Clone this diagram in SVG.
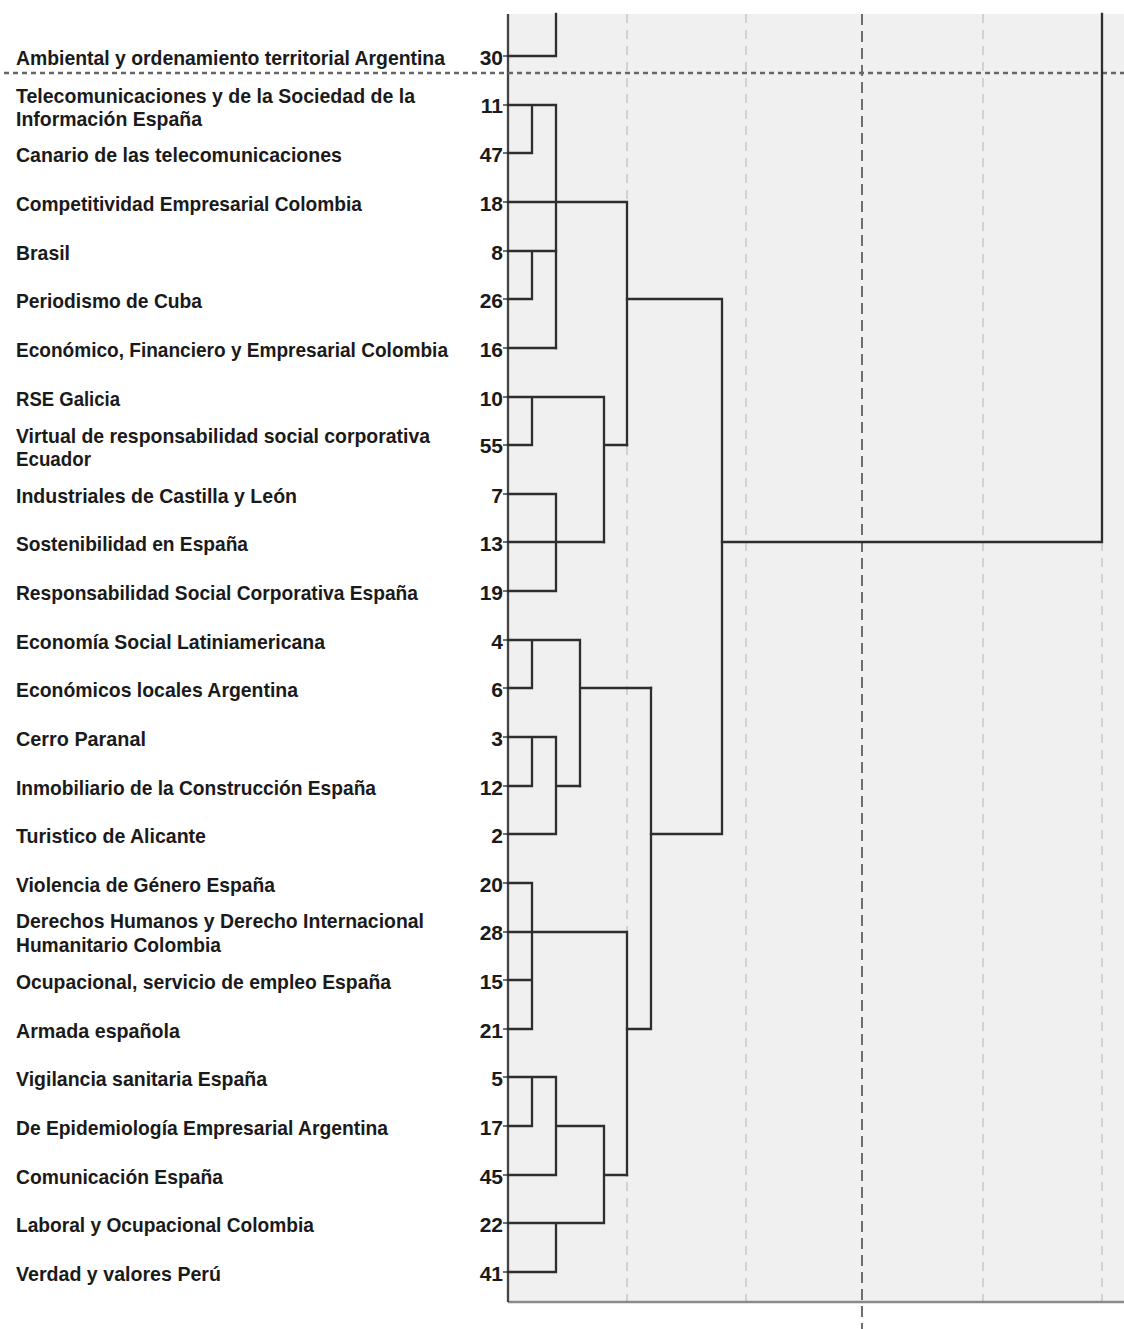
<svg xmlns="http://www.w3.org/2000/svg" width="1124" height="1329" viewBox="0 0 1124 1329">
<style>
.lbl{font-family:"Liberation Sans",Arial,sans-serif;font-weight:bold;font-size:21px;fill:#1a1a1a}
.num{font-family:"Liberation Sans",Arial,sans-serif;font-weight:bold;font-size:21px;fill:#1a1a1a;text-anchor:end}
.grid{stroke:#c8c8c8;stroke-width:1.5;stroke-dasharray:9 7;fill:none}
.grid2{stroke:#6e6e6e;stroke-width:2;stroke-dasharray:11 6;fill:none}
.link{stroke:#2e2e2e;stroke-width:2.3;fill:none;stroke-linecap:square}
.tick{stroke:#444;stroke-width:1.5}
</style>
<rect x="0" y="0" width="1124" height="1329" fill="#fff"/>
<g id="plot-area">
<rect x="508" y="14" width="616" height="1288" fill="#f0f0f0"/>
<line class="grid" x1="627" y1="14" x2="627" y2="1302"/>
<line class="grid" x1="746" y1="14" x2="746" y2="1302"/>
<line class="grid" x1="983" y1="14" x2="983" y2="1302"/>
<line class="grid" x1="1102" y1="14" x2="1102" y2="1302"/>
<line class="grid2" x1="862" y1="14" x2="862" y2="1329"/>
<line x1="508" y1="1302" x2="1124" y2="1302" stroke="#8a8a8a" stroke-width="2.5"/>
<line x1="508" y1="14" x2="508" y2="1302" stroke="#444" stroke-width="2.3"/>
<line x1="4" y1="73" x2="1124" y2="73" stroke="#666" stroke-width="2.5" stroke-dasharray="5 4"/>
</g>
<g id="ticks">
<path class="tick" d="M503 56H508M503 105H508M503 153H508M503 202H508M503 251H508M503 299H508M503 348H508M503 397H508M503 445H508M503 494H508M503 542H508M503 591H508M503 640H508M503 688H508M503 737H508M503 786H508M503 834H508M503 883H508M503 932H508M503 980H508M503 1029H508M503 1077H508M503 1126H508M503 1175H508M503 1223H508M503 1272H508"/>
</g>
<g id="connectors">
<path class="link" d="M508 56H556M556 14V56"/>
<path class="link" d="M508 105H556M532 105V153M508 153H532M556 105V348"/>
<path class="link" d="M508 202H627M627 202V445"/>
<path class="link" d="M508 251H556M532 251V299M508 299H532"/>
<path class="link" d="M627 299H722M722 299V834M651 834H722"/>
<path class="link" d="M508 348H556"/>
<path class="link" d="M508 397H604M532 397V445M508 445H532M604 445H627M604 397V542"/>
<path class="link" d="M508 494H556M556 494V591M508 542H604M508 591H556"/>
<path class="link" d="M722 542H1102M1102 14V542"/>
<path class="link" d="M508 640H580M532 640V688M508 688H532M580 688H651M580 640V786"/>
<path class="link" d="M508 737H556M532 737V786M508 786H532M556 786H580M556 737V834M508 834H556"/>
<path class="link" d="M651 688V1029M627 1029H651"/>
<path class="link" d="M508 883H532M532 883V1029M508 932H627M627 932V1175M508 980H532M508 1029H532"/>
<path class="link" d="M508 1077H556M532 1077V1126M508 1126H532M556 1126H604M556 1077V1175M508 1175H556M604 1175H627M604 1126V1223M508 1223H604M556 1223V1272M508 1272H556"/>
</g>
<g id="n30"><text class="lbl" x="16" y="65" textLength="429" lengthAdjust="spacingAndGlyphs">Ambiental y ordenamiento territorial Argentina</text><text class="num" x="503" y="65">30</text></g>
<g id="n11"><text class="lbl" x="16" y="103" textLength="399" lengthAdjust="spacingAndGlyphs">Telecomunicaciones y de la Sociedad de la</text><text class="lbl" x="16" y="126" textLength="186" lengthAdjust="spacingAndGlyphs">Información España</text><text class="num" x="503" y="113">11</text></g>
<g id="n47"><text class="lbl" x="16" y="162" textLength="326" lengthAdjust="spacingAndGlyphs">Canario de las telecomunicaciones</text><text class="num" x="503" y="162">47</text></g>
<g id="n18"><text class="lbl" x="16" y="211" textLength="346" lengthAdjust="spacingAndGlyphs">Competitividad Empresarial Colombia</text><text class="num" x="503" y="211">18</text></g>
<g id="n8"><text class="lbl" x="16" y="260" textLength="54" lengthAdjust="spacingAndGlyphs">Brasil</text><text class="num" x="503" y="260">8</text></g>
<g id="n26"><text class="lbl" x="16" y="308" textLength="186" lengthAdjust="spacingAndGlyphs">Periodismo de Cuba</text><text class="num" x="503" y="308">26</text></g>
<g id="n16"><text class="lbl" x="16" y="357" style="font-size:20px" textLength="432" lengthAdjust="spacingAndGlyphs">Económico, Financiero y Empresarial Colombia</text><text class="num" x="503" y="357">16</text></g>
<g id="n10"><text class="lbl" x="16" y="406" textLength="104" lengthAdjust="spacingAndGlyphs">RSE Galicia</text><text class="num" x="503" y="406">10</text></g>
<g id="n55"><text class="lbl" x="16" y="443" textLength="414" lengthAdjust="spacingAndGlyphs">Virtual de responsabilidad social corporativa</text><text class="lbl" x="16" y="466" textLength="75" lengthAdjust="spacingAndGlyphs">Ecuador</text><text class="num" x="503" y="453">55</text></g>
<g id="n7"><text class="lbl" x="16" y="503" textLength="281" lengthAdjust="spacingAndGlyphs">Industriales de Castilla y León</text><text class="num" x="503" y="503">7</text></g>
<g id="n13"><text class="lbl" x="16" y="551" textLength="232" lengthAdjust="spacingAndGlyphs">Sostenibilidad en España</text><text class="num" x="503" y="551">13</text></g>
<g id="n19"><text class="lbl" x="16" y="600" textLength="402" lengthAdjust="spacingAndGlyphs">Responsabilidad Social Corporativa España</text><text class="num" x="503" y="600">19</text></g>
<g id="n4"><text class="lbl" x="16" y="649" textLength="309" lengthAdjust="spacingAndGlyphs">Economía Social Latiniamericana</text><text class="num" x="503" y="649">4</text></g>
<g id="n6"><text class="lbl" x="16" y="697" textLength="282" lengthAdjust="spacingAndGlyphs">Económicos locales Argentina</text><text class="num" x="503" y="697">6</text></g>
<g id="n3"><text class="lbl" x="16" y="746" textLength="130" lengthAdjust="spacingAndGlyphs">Cerro Paranal</text><text class="num" x="503" y="746">3</text></g>
<g id="n12"><text class="lbl" x="16" y="795" textLength="360" lengthAdjust="spacingAndGlyphs">Inmobiliario de la Construcción España</text><text class="num" x="503" y="795">12</text></g>
<g id="n2"><text class="lbl" x="16" y="843" textLength="190" lengthAdjust="spacingAndGlyphs">Turistico de Alicante</text><text class="num" x="503" y="843">2</text></g>
<g id="n20"><text class="lbl" x="16" y="892" textLength="259" lengthAdjust="spacingAndGlyphs">Violencia de Género España</text><text class="num" x="503" y="892">20</text></g>
<g id="n28"><text class="lbl" x="16" y="928" textLength="408" lengthAdjust="spacingAndGlyphs">Derechos Humanos y Derecho Internacional</text><text class="lbl" x="16" y="952" textLength="205" lengthAdjust="spacingAndGlyphs">Humanitario Colombia</text><text class="num" x="503" y="940">28</text></g>
<g id="n15"><text class="lbl" x="16" y="989" textLength="375" lengthAdjust="spacingAndGlyphs">Ocupacional, servicio de empleo España</text><text class="num" x="503" y="989">15</text></g>
<g id="n21"><text class="lbl" x="16" y="1038" textLength="164" lengthAdjust="spacingAndGlyphs">Armada española</text><text class="num" x="503" y="1038">21</text></g>
<g id="n5"><text class="lbl" x="16" y="1086" textLength="251" lengthAdjust="spacingAndGlyphs">Vigilancia sanitaria España</text><text class="num" x="503" y="1086">5</text></g>
<g id="n17"><text class="lbl" x="16" y="1135" textLength="372" lengthAdjust="spacingAndGlyphs">De Epidemiología Empresarial Argentina</text><text class="num" x="503" y="1135">17</text></g>
<g id="n45"><text class="lbl" x="16" y="1184" textLength="207" lengthAdjust="spacingAndGlyphs">Comunicación España</text><text class="num" x="503" y="1184">45</text></g>
<g id="n22"><text class="lbl" x="16" y="1232" textLength="298" lengthAdjust="spacingAndGlyphs">Laboral y Ocupacional Colombia</text><text class="num" x="503" y="1232">22</text></g>
<g id="n41"><text class="lbl" x="16" y="1281" textLength="205" lengthAdjust="spacingAndGlyphs">Verdad y valores Perú</text><text class="num" x="503" y="1281">41</text></g>
</svg>
